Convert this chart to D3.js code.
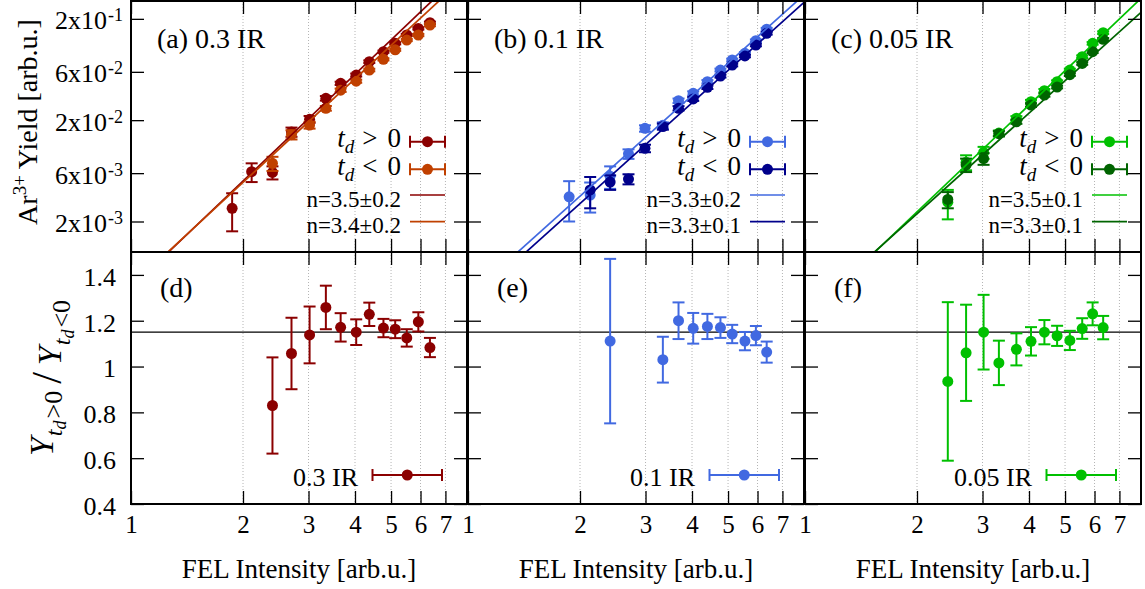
<!DOCTYPE html>
<html>
<head>
<meta charset="utf-8">
<script src="https://cdn.jsdelivr.net/npm/d3@7"></script>
<style>
html,body{margin:0;padding:0;background:#fff;}
svg{display:block;}
</style>
</head>
<body>
<svg id="chart" width="1145" height="589"></svg>
<script>
// ---------------- data ----------------
const intensityTicks = [1, 2, 3, 4, 5, 6, 7];
const yieldTicks = [0.002, 0.006, 0.02, 0.06, 0.2];
const ratioTicks = [0.4, 0.6, 0.8, 1, 1.2, 1.4];
const intensityDomain = [1, 8];
const yieldDomain = [0.001, 0.3];
const ratioDomain = [0.4, 1.5];
const ratioReference = 1.15;

const panelTitles = ["(a) 0.3 IR", "(b) 0.1 IR", "(c) 0.05 IR"];
const ratioTitles = ["(d)", "(e)", "(f)"];
const irLabels = ["0.3 IR", "0.1 IR", "0.05 IR"];
const fitLabelsPos = ["n=3.5\u00b10.2", "n=3.3\u00b10.2", "n=3.5\u00b10.1"];
const fitLabelsNeg = ["n=3.4\u00b10.2", "n=3.3\u00b10.1", "n=3.3\u00b10.1"];
const fitExponentPos = [3.5, 3.3, 3.5];
const fitExponentNeg = [3.4, 3.3, 3.3];
const fitAmplitudePos = [4.43e-4, 3.61e-4, 2.20e-4];
const fitAmplitudeNeg = [4.60e-4, 3.05e-4, 2.42e-4];
const colorsPos = ["#8b0000", "#4169e1", "#00c000"];
const colorsNeg = ["#c04000", "#00008b", "#006400"];

// panel (a) 0.3 IR
const intensityA_pos = [1.87, 2.11, 2.40, 2.70, 3.02, 3.34, 3.66, 4.03, 4.37, 4.77, 5.13, 5.51, 5.92, 6.36];
const yieldA_pos = [0.0027, 0.0062, 0.0061, 0.0153, 0.0204, 0.0329, 0.0462, 0.0558, 0.0755, 0.0948, 0.1147, 0.1385, 0.161, 0.183];
const errA_pos = [0.0011, 0.0013, 0.0009, 0.0016, 0.0016, 0.0017, 0.0017, 0.0019, 0.0022, 0.0023, 0.0028, 0.0033, 0.0040, 0.0049];
const intensityA_neg = [2.40, 2.70, 3.02, 3.34, 3.66, 4.03, 4.37, 4.77, 5.13, 5.51, 5.92, 6.36];
const yieldA_neg = [0.0075, 0.0144, 0.0179, 0.0262, 0.0395, 0.0485, 0.0625, 0.0797, 0.099, 0.1236, 0.1385, 0.1738];
const errA_neg = [0.0012, 0.0015, 0.0014, 0.0014, 0.0015, 0.0017, 0.0018, 0.0019, 0.0024, 0.0030, 0.0035, 0.0047];

// panel (b) 0.1 IR
const intensityB_pos = [1.87, 2.13, 2.41, 2.70, 2.99, 3.34, 3.68, 4.03, 4.40, 4.77, 5.13, 5.55, 5.94, 6.35];
const yieldB_pos = [0.0035, 0.00365, 0.0056, 0.0093, 0.0166, 0.0178, 0.0311, 0.0368, 0.0479, 0.0625, 0.0785, 0.0914, 0.1216, 0.158];
const errB_pos = [0.0015, 0.0012, 0.0014, 0.0010, 0.0012, 0.0012, 0.0016, 0.0017, 0.0018, 0.0020, 0.0024, 0.0026, 0.0035, 0.0048];
const intensityB_neg = [2.13, 2.41, 2.70, 2.99, 3.34, 3.68, 4.03, 4.40, 4.77, 5.13, 5.55, 5.94, 6.35];
const yieldB_neg = [0.0041, 0.0049, 0.00525, 0.01055, 0.0173, 0.0262, 0.0324, 0.0422, 0.0545, 0.070, 0.086, 0.1104, 0.144];
const errB_neg = [0.0014, 0.0008, 0.0006, 0.0009, 0.0012, 0.0013, 0.0014, 0.0016, 0.0018, 0.0021, 0.0025, 0.0032, 0.0042];

// panel (c) 0.05 IR
const intensityC_pos = [2.42, 2.71, 3.02, 3.32, 3.70, 4.05, 4.40, 4.76, 5.15, 5.56, 5.93, 6.33];
const yieldC_pos = [0.0031, 0.0077, 0.0096, 0.0149, 0.0209, 0.0304, 0.0391, 0.0479, 0.0625, 0.0846, 0.1147, 0.146];
const errC_pos = [0.0010, 0.0013, 0.0013, 0.0009, 0.0010, 0.0013, 0.0015, 0.0015, 0.0019, 0.0025, 0.0033, 0.0044];
const intensityC_neg = [2.42, 2.71, 3.02, 3.32, 3.70, 4.05, 4.40, 4.76, 5.15, 5.56, 5.93, 6.33];
const yieldC_neg = [0.0033, 0.00725, 0.00835, 0.0147, 0.0193, 0.0282, 0.0354, 0.0425, 0.0563, 0.0726, 0.0948, 0.1256];
const errC_neg = [0.0006, 0.0011, 0.0011, 0.0009, 0.0009, 0.0012, 0.0013, 0.0013, 0.0017, 0.0022, 0.0028, 0.0038];

// ratio panels (d), (e), (f)
const ratioIntensityD = [2.40, 2.70, 3.02, 3.34, 3.66, 4.03, 4.37, 4.77, 5.13, 5.51, 5.92, 6.36];
const ratioD = [0.83, 1.057, 1.138, 1.258, 1.171, 1.15, 1.228, 1.168, 1.163, 1.125, 1.195, 1.083];
const ratioErrD = [0.21, 0.156, 0.124, 0.095, 0.062, 0.056, 0.051, 0.040, 0.039, 0.038, 0.042, 0.042];
const ratioIntensityE = [2.41, 3.34, 3.68, 4.03, 4.40, 4.77, 5.13, 5.55, 5.94, 6.35];
const ratioE = [1.111, 1.03, 1.2, 1.167, 1.175, 1.17, 1.142, 1.111, 1.135, 1.063];
const ratioErrE = [0.359, 0.10, 0.08, 0.067, 0.055, 0.045, 0.040, 0.040, 0.042, 0.046];
const ratioIntensityF = [2.42, 2.71, 3.02, 3.32, 3.70, 4.05, 4.40, 4.76, 5.15, 5.56, 5.93, 6.33];
const ratioF = [0.935, 1.06, 1.15, 1.016, 1.075, 1.11, 1.15, 1.134, 1.114, 1.166, 1.23, 1.17];
const ratioErrF = [0.346, 0.21, 0.163, 0.097, 0.07, 0.062, 0.053, 0.044, 0.042, 0.045, 0.05, 0.051];

// ---------------- layout ----------------
const FONT = '"Liberation Serif", serif';
const panelLeft = [131, 468, 805];
const PW = 336, TOP = 1, MID = 252, BOT = 504;
const TICK = 13;
const legendSampleLeft = [279, 282, 287];
const legendRowY = [141.7, 169.3, 195, 221.7];
const legendTextBase = [147, 175, 206.5, 233];

const columns = [
  {pos: [intensityA_pos, yieldA_pos, errA_pos], neg: [intensityA_neg, yieldA_neg, errA_neg], ratio: [ratioIntensityD, ratioD, ratioErrD]},
  {pos: [intensityB_pos, yieldB_pos, errB_pos], neg: [intensityB_neg, yieldB_neg, errB_neg], ratio: [ratioIntensityE, ratioE, ratioErrE]},
  {pos: [intensityC_pos, yieldC_pos, errC_pos], neg: [intensityC_neg, yieldC_neg, errC_neg], ratio: [ratioIntensityF, ratioF, ratioErrF]}
];

const svg = d3.select("#chart");
const defs = svg.append("defs");

function toRows(s) { return s[0].map((xv, k) => ({x: xv, y: s[1][k], e: s[2][k]})); }

function drawSeries(g, s, x, y, color) {
  const gg = g.append("g").attr("stroke", color).attr("fill", color).attr("stroke-width", 2);
  const p = gg.selectAll("g").data(toRows(s)).join("g");
  p.append("line").attr("x1", d => x(d.x)).attr("x2", d => x(d.x))
    .attr("y1", d => y(d.y - d.e)).attr("y2", d => y(d.y + d.e));
  p.append("line").attr("x1", d => x(d.x) - 6).attr("x2", d => x(d.x) + 6)
    .attr("y1", d => y(d.y + d.e)).attr("y2", d => y(d.y + d.e));
  p.append("line").attr("x1", d => x(d.x) - 6).attr("x2", d => x(d.x) + 6)
    .attr("y1", d => y(d.y - d.e)).attr("y2", d => y(d.y - d.e));
  p.append("circle").attr("cx", d => x(d.x)).attr("cy", d => y(d.y)).attr("r", 5.5).attr("stroke", "none");
}

function sampleErr(g, x1, x2, y, color) {
  const gg = g.append("g").attr("stroke", color).attr("fill", color).attr("stroke-width", 2);
  gg.append("line").attr("x1", x1).attr("x2", x2).attr("y1", y).attr("y2", y);
  gg.append("line").attr("x1", x1).attr("x2", x1).attr("y1", y - 6).attr("y2", y + 6);
  gg.append("line").attr("x1", x2).attr("x2", x2).attr("y1", y - 6).attr("y2", y + 6);
  gg.append("circle").attr("cx", (x1 + x2) / 2).attr("cy", y).attr("r", 5.5).attr("stroke", "none");
}

function styleAxis(g, size) {
  g.select(".domain").remove();
  g.attr("font-family", null).attr("font-size", size || 26);
  g.selectAll(".tick line").attr("stroke", "#000").attr("stroke-width", 1.3);
  g.selectAll(".tick text").attr("fill", "#000");
}

function tdLabel(g, xEnd, yBase, sign) {
  const t = g.append("text").attr("x", xEnd).attr("y", yBase).attr("text-anchor", "end").attr("font-size", 27);
  t.append("tspan").attr("font-style", "italic").text("t");
  t.append("tspan").attr("font-style", "italic").attr("font-size", 19).attr("dy", 6).text("d");
  t.append("tspan").attr("dy", -6).attr("dx", 8).text(sign);
  t.append("tspan").attr("dx", 10).text("0");
}

columns.forEach((c, i) => {
  const L = panelLeft[i];
  const x = d3.scaleLog().domain(intensityDomain).range([L, L + PW]);
  const yT = d3.scaleLog().domain(yieldDomain).range([MID, TOP]);
  const yB = d3.scaleLinear().domain(ratioDomain).range([BOT, MID]);

  defs.append("clipPath").attr("id", "ct" + i).append("rect")
    .attr("x", L).attr("y", TOP).attr("width", PW).attr("height", MID - TOP);
  defs.append("clipPath").attr("id", "cb" + i).append("rect")
    .attr("x", L).attr("y", MID).attr("width", PW).attr("height", BOT - MID);

  const gT = svg.append("g").attr("clip-path", `url(#ct${i})`);
  const gB = svg.append("g").attr("clip-path", `url(#cb${i})`);

  // grid
  const gridVals = intensityTicks.filter(v => v > 1);
  [[gT, yT], [gB, yB]].forEach(([g, y]) => {
    g.append("g").selectAll("line").data(gridVals).join("line")
      .attr("x1", d => x(d)).attr("x2", d => x(d))
      .attr("y1", y.range()[1]).attr("y2", y.range()[0])
      .attr("stroke", "#b4b4b4").attr("stroke-width", 1).attr("stroke-dasharray", "1,2");
  });

  // reference line
  gB.append("line").attr("x1", L).attr("x2", L + PW)
    .attr("y1", yB(ratioReference)).attr("y2", yB(ratioReference))
    .attr("stroke", "#000").attr("stroke-width", 1.3);

  // yield data
  drawSeries(gT, c.pos, x, yT, colorsPos[i]);
  drawSeries(gT, c.neg, x, yT, colorsNeg[i]);

  // power-law fits
  const line = d3.line();
  const fitX = intensityDomain;
  gT.append("path").attr("d", line(fitX.map(v => [x(v), yT(fitAmplitudePos[i] * Math.pow(v, fitExponentPos[i]))])))
    .attr("fill", "none").attr("stroke", colorsPos[i]).attr("stroke-width", 1.7);
  gT.append("path").attr("d", line(fitX.map(v => [x(v), yT(fitAmplitudeNeg[i] * Math.pow(v, fitExponentNeg[i]))])))
    .attr("fill", "none").attr("stroke", colorsNeg[i]).attr("stroke-width", 1.7);

  // ratio data
  drawSeries(gB, c.ratio, x, yB, colorsPos[i]);

  // axes
  const ax = svg.append("g");
  const supFmt = function (sel) {
    sel.selectAll(".tick text").each(function (d) {
      const e = Math.floor(Math.log10(d) + 1e-9);
      const m = Math.round(d / Math.pow(10, e));
      const t = d3.select(this).text(null).attr("dy", "0.38em");
      t.append("tspan").text(m + "x10");
      t.append("tspan").attr("font-size", 18).attr("dy", -8).attr("dx", 1).text("-" + (-e));
    });
  };
  const yl = ax.append("g").attr("transform", `translate(${L},0)`)
    .call(d3.axisLeft(yT).tickValues(yieldTicks).tickSize(-TICK).tickPadding(8).tickFormat(i === 0 ? (d => d) : () => ""));
  styleAxis(yl);
  if (i === 0) yl.call(supFmt);
  styleAxis(ax.append("g").attr("transform", `translate(${L + PW},0)`)
    .call(d3.axisRight(yT).tickValues(yieldTicks).tickSize(-TICK).tickFormat(() => "")));
  styleAxis(ax.append("g").attr("transform", `translate(0,${TOP})`)
    .call(d3.axisTop(x).tickValues(intensityTicks).tickSize(-TICK).tickFormat(() => "")));
  styleAxis(ax.append("g").attr("transform", `translate(0,${MID})`)
    .call(d3.axisBottom(x).tickValues(intensityTicks).tickSize(-TICK).tickFormat(() => "")));

  const yl2 = ax.append("g").attr("transform", `translate(${L},0)`)
    .call(d3.axisLeft(yB).tickValues(ratioTicks).tickSize(-TICK).tickPadding(15)
      .tickFormat(i === 0 ? (d => String(d)) : () => ""));
  styleAxis(yl2);
  yl2.selectAll(".tick text").attr("dy", "0.4em");
  styleAxis(ax.append("g").attr("transform", `translate(${L + PW},0)`)
    .call(d3.axisRight(yB).tickValues(ratioTicks).tickSize(-TICK).tickFormat(() => "")));
  styleAxis(ax.append("g").attr("transform", `translate(0,${MID})`)
    .call(d3.axisTop(x).tickValues(intensityTicks).tickSize(-TICK).tickFormat(() => "")));
  const xb = ax.append("g").attr("transform", `translate(0,${BOT})`)
    .call(d3.axisBottom(x).tickValues(intensityTicks).tickSize(-TICK).tickPadding(11).tickFormat(d => String(d)));
  styleAxis(xb, 25);

  // frames
  svg.append("rect").attr("x", L).attr("y", TOP).attr("width", PW).attr("height", MID - TOP)
    .attr("fill", "none").attr("stroke", "#000").attr("stroke-width", 2);
  svg.append("rect").attr("x", L).attr("y", MID).attr("width", PW).attr("height", BOT - MID)
    .attr("fill", "none").attr("stroke", "#000").attr("stroke-width", 2);

  // panel titles
  svg.append("text").attr("x", L + 26).attr("y", 48).attr("font-size", 28).text(panelTitles[i]);
  svg.append("text").attr("x", L + 29).attr("y", 297).attr("font-size", 28).text(ratioTitles[i]);

  // top legend
  const lg = svg.append("g");
  const sL = L + legendSampleLeft[i], sR = sL + 35, tE = sL - 9;
  tdLabel(lg, tE, legendTextBase[0], ">");
  sampleErr(lg, sL, sR, legendRowY[0], colorsPos[i]);
  tdLabel(lg, tE, legendTextBase[1], "<");
  sampleErr(lg, sL, sR, legendRowY[1], colorsNeg[i]);
  lg.append("text").attr("x", tE).attr("y", legendTextBase[2]).attr("text-anchor", "end").attr("font-size", 23).text(fitLabelsPos[i]);
  lg.append("line").attr("x1", sL).attr("x2", sR).attr("y1", legendRowY[2]).attr("y2", legendRowY[2])
    .attr("stroke", colorsPos[i]).attr("stroke-width", 1.7);
  lg.append("text").attr("x", tE).attr("y", legendTextBase[3]).attr("text-anchor", "end").attr("font-size", 23).text(fitLabelsNeg[i]);
  lg.append("line").attr("x1", sL).attr("x2", sR).attr("y1", legendRowY[3]).attr("y2", legendRowY[3])
    .attr("stroke", colorsNeg[i]).attr("stroke-width", 1.7);

  // bottom legend
  svg.append("text").attr("x", L + 227).attr("y", 486).attr("text-anchor", "end").attr("font-size", 26).text(irLabels[i]);
  sampleErr(svg, L + 241.5, L + 311, 475, colorsPos[i]);

  // x axis title
  svg.append("text").attr("x", L + PW / 2).attr("y", 578).attr("text-anchor", "middle").attr("font-size", 27)
    .text("FEL Intensity [arb.u.]");
});

// y axis titles
const yt = svg.append("text").attr("transform", "translate(37,122) rotate(-90)")
  .attr("text-anchor", "middle").attr("font-size", 28);
yt.append("tspan").text("Ar");
yt.append("tspan").attr("font-size", 19).attr("dy", -11).text("3+");
yt.append("tspan").attr("dy", 11).text(" Yield [arb.u.]");

const yr = svg.append("text").attr("transform", "translate(53,378) rotate(-90)")
  .attr("text-anchor", "middle").attr("font-size", 34);
function ratioPart(sign, first) {
  yr.append("tspan").attr("font-style", "italic").attr("dx", first ? 0 : 7).text("Y");
  yr.append("tspan").attr("font-style", "italic").attr("font-size", 24).attr("dy", 9).attr("dx", 1).text("t");
  yr.append("tspan").attr("font-style", "italic").attr("font-size", 18).attr("dy", 4).text("d");
  yr.append("tspan").attr("font-size", 26).attr("dy", -4).attr("dx", 2).text(sign + "0");
}
ratioPart(">", true);
yr.append("tspan").attr("font-size", 42).attr("dy", -1).attr("dx", 7).text("/");
yr.append("tspan").attr("dy", -8).attr("font-size", 34).text("");
ratioPart("<", false);

// font for every text element (inline style)
svg.selectAll("text").style("font-family", FONT).attr("fill", "#000");
</script>
</body>
</html>
